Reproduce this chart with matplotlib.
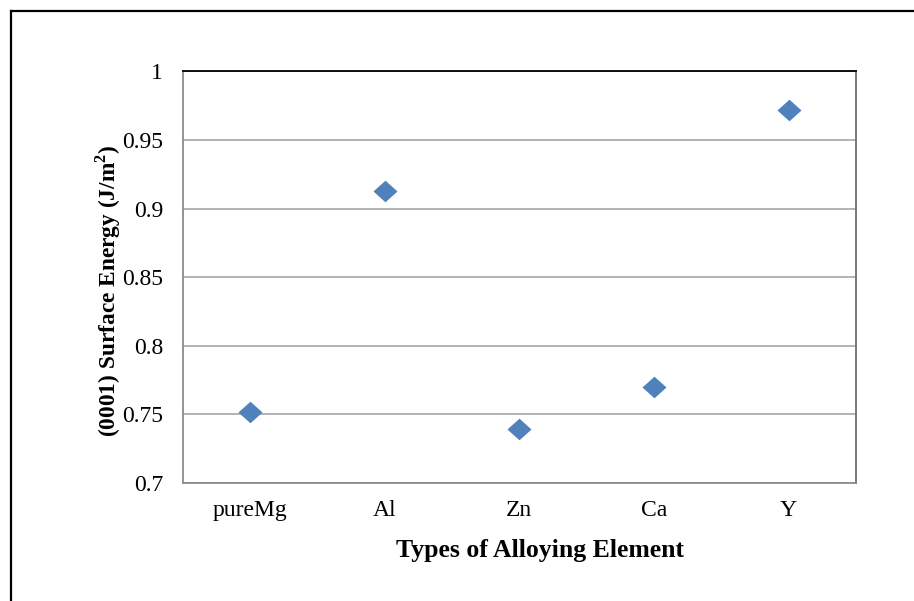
import matplotlib
matplotlib.use("Agg")
import matplotlib.pyplot as plt
from matplotlib.lines import Line2D

# Surface energy of the Mg (0001) plane for each alloying element
elements = ["pureMg", "Al", "Zn", "Ca", "Y"]
surface_energy = [0.752, 0.913, 0.739, 0.770, 0.972]

y_ticks = [0.7, 0.75, 0.8, 0.85, 0.9, 0.95, 1.0]
y_tick_labels = ["0.7", "0.75", "0.8", "0.85", "0.9", "0.95", "1"]

plt.rcParams["font.family"] = ["Liberation Serif", "DejaVu Serif"]
plt.rcParams["mathtext.fontset"] = "custom"
plt.rcParams["mathtext.rm"] = "Liberation Serif"
plt.rcParams["mathtext.bf"] = "Liberation Serif:bold"

fig = plt.figure(figsize=(9.14, 6.01), dpi=100)
ax = fig.add_axes([0.1999, 0.1963, 0.7366, 0.6851])

x = list(range(len(elements)))
# slightly flattened diamond marker
diamond = [(-1, 0), (0, 0.9), (1, 0), (0, -0.9), (-1, 0)]
ax.plot(x, surface_energy, linestyle="none", marker=diamond,
        markersize=17.3, color="#4F81BD", markeredgewidth=0, zorder=3)

ax.set_xlim(-0.5, len(elements) - 0.5)
ax.set_ylim(0.7, 1.0)
ax.set_yticks(y_ticks)
ax.set_yticklabels(y_tick_labels)
ax.set_xticks(x)
ax.set_xticklabels(elements)

ax.yaxis.grid(True, color="#a6a6a6", linewidth=1.2)
ax.set_axisbelow(True)
ax.tick_params(axis="both", length=0, labelsize=17, colors="black")
ax.tick_params(axis="y", pad=14)
ax.tick_params(axis="x", pad=12)

ax.spines["top"].set_color("black")
ax.spines["top"].set_linewidth(1.3)
ax.spines["right"].set_color("#707070")
ax.spines["right"].set_linewidth(1.3)
ax.spines["left"].set_color("#8c8c8c")
ax.spines["left"].set_linewidth(1.3)
ax.spines["bottom"].set_color("#8c8c8c")
ax.spines["bottom"].set_linewidth(1.3)

ax.set_xlabel("Types of Alloying Element", fontsize=18.5, fontweight="bold")
ax.xaxis.set_label_coords(0.5307, -0.165)
ax.xaxis.label.set_va("center")
ax.set_ylabel(r"(0001) Surface Energy (J/m$^{\mathbf{2}}$)", fontsize=16.8,
              fontweight="bold")
ax.yaxis.set_label_coords(-0.111, 0.466)
ax.yaxis.label.set_va("center")

# outer frame: left and top edges
fig.add_artist(Line2D([10.5 / 914, 10.5 / 914], [0, 1 - 11 / 601],
                      transform=fig.transFigure, color="black", linewidth=1.6))
fig.add_artist(Line2D([10.5 / 914, 1], [1 - 11 / 601, 1 - 11 / 601],
                      transform=fig.transFigure, color="black", linewidth=1.6))

fig.savefig("out.png", dpi=100, facecolor="white")
